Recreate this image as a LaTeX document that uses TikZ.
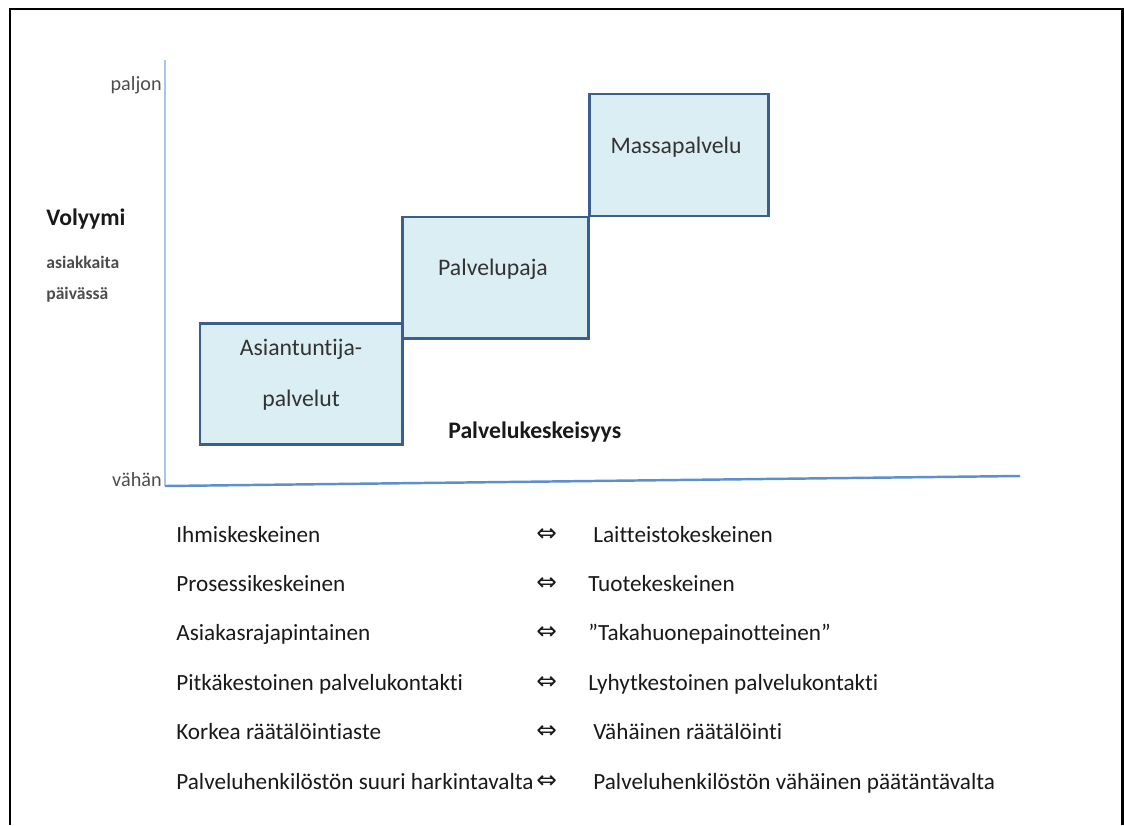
\documentclass[tikz,border=0pt]{standalone}
\usepackage{fontspec}
\setmainfont{Carlito}[Ligatures=NoCommon]
\newfontfamily\nuolifont{DejaVu Sans}
\usepackage{xcolor}
\usepackage{tikz}
\usetikzlibrary{positioning}

\definecolor{laatikkoreuna}{HTML}{3A5F8E}
\definecolor{laatikkotausta}{HTML}{DBEEF4}
\definecolor{akselivaalea}{HTML}{A9C5E8}
\definecolor{akselitumma}{HTML}{5F8FCB}

\begin{document}
\begin{tikzpicture}[
    x=0.02cm, y=-0.02cm,
    every node/.style={font=\fontsize{13.2}{15}\selectfont, text=black!90, inner sep=0pt},
    laatikko/.style={draw=laatikkoreuna, fill=laatikkotausta, line width=1.7pt, minimum height=121*0.02cm},
    laatikkoteksti/.style={anchor=base, text=black!80, font=\fontsize{13.5}{15}\selectfont},
    asteikko/.style={anchor=base east, text=black!70, font=\fontsize{11.5}{13}\selectfont},
    pieniteksti/.style={anchor=base west, text=black!70, font=\fontsize{10}{12}\selectfont\bfseries},
    rivi/.style={anchor=base west}
]

% kuvan koko
\useasboundingbox (0,0) rectangle (1124,825);

% kehys (alareuna rajautuu pois)
\draw[line width=1.7pt, black] (10,825) -- (10,9) -- (1122,9) -- (1122,825);

% akselit
\coordinate (origo) at (165,486);
\coordinate (ylaraja) at (165,60);
\coordinate (oikearaja) at (1020,476);
\draw[akselivaalea, line width=1.6pt] (origo) -- (ylaraja);
\draw[akselitumma, line width=1.4pt] (origo) -- (oikearaja);

% asteikon sanat
\node[asteikko] (paljon) at (162,90) {paljon};
\node[asteikko] (vahan) at (162,486) {vähän};

% pystyakselin otsikko
\node[anchor=base west, font=\fontsize{13.5}{15}\selectfont\bfseries] (volyymi) at (46,225) {Volyymi};
\node[pieniteksti] (asiakkaita) at (46,268) {asiakkaita};
\node[pieniteksti] (paivassa) at (46,299) {päivässä};

% portaat
\node[laatikko, minimum width=202*0.02cm] (asiantuntija) at (301,383.5) {};
\node[laatikko, minimum width=186*0.02cm] (paja) at (495,277.5) {};
\node[laatikko, minimum width=179*0.02cm, minimum height=122*0.02cm] (massa) at (678.5,155) {};

\node[laatikkoteksti] (asiantuntija1) at (301,355) {Asiantuntija-};
\node[laatikkoteksti] (asiantuntija2) at (301,406) {palvelut};
\node[laatikkoteksti] (pajateksti) at (493,275) {Palvelupaja};
\node[laatikkoteksti] (massateksti) at (676,153) {Massapalvelu};

% vaaka-akselin otsikko
\node[anchor=base west, font=\fontsize{13.5}{15}\selectfont\bfseries] (keskeisyys) at (448,438) {Palvelukeskeisyys};

% vastakohtaparit
\foreach \vasen/\oikea/\ox [count=\i] in {
    Ihmiskeskeinen/Laitteistokeskeinen/593,
    Prosessikeskeinen/Tuotekeskeinen/588,
    Asiakasrajapintainen/”Takahuonepainotteinen”/588,
    Pitkäkestoinen palvelukontakti/Lyhytkestoinen palvelukontakti/588,
    Korkea räätälöintiaste/Vähäinen räätälöinti/593,
    Palveluhenkilöstön suuri harkintavalta/Palveluhenkilöstön vähäinen päätäntävalta/593} {
    \node[rivi] (vasen\i) at (176,{542+(\i-1)*49.4}) {\vasen};
    \node[rivi, font=\nuolifont\fontsize{14}{15}\selectfont] (nuoli\i) at (536,{541+(\i-1)*49.4}) {⇔};
    \node[rivi] (oikea\i) at (\ox,{542+(\i-1)*49.4}) {\oikea};
}

\end{tikzpicture}
\end{document}
